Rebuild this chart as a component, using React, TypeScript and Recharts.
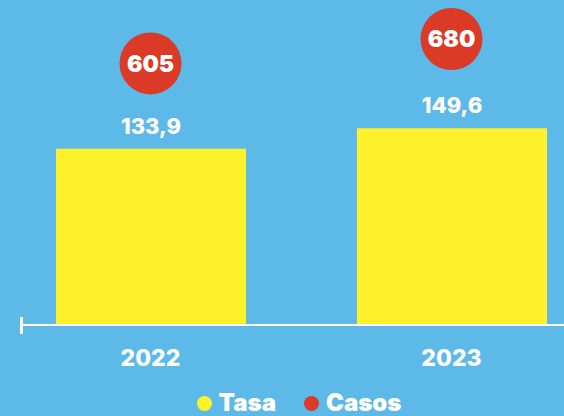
import React from "react";
import { ComposedChart, Bar, Line, XAxis, YAxis, LabelList, Legend } from "recharts";

const years = ["2022", "2023"];
const tasa = [133.9, 149.6];
const casos = [605, 680];
const legendOrder = ["Tasa", "Casos"];

const BG = "#5DB9E8";
const YELLOW = "#FFF22A";
const RED = "#DA3A26";
const FONT = "Inter, 'Open Sans', sans-serif";

const data = years.map((y, i) => ({ year: y, tasa: tasa[i], casos: casos[i] }));

const fmt = (v: number) => v.toFixed(1).replace(".", ",");

const CasoDot = (props: any) => {
  const { cx, cy, value } = props;
  if (cx == null || cy == null) return null;
  return (
    <g>
      <circle cx={cx} cy={cy} r={31} fill={RED} />
      <text
        x={cx}
        y={cy}
        dy="0.36em"
        textAnchor="middle"
        fill="#fff"
        fontSize={23}
        fontWeight={900}
        fontFamily={FONT}
      >
        {value}
      </text>
    </g>
  );
};

const LegendContent = ({ payload }: any) => {
  const items = [...(payload || [])].sort(
    (a: any, b: any) => legendOrder.indexOf(a.value) - legendOrder.indexOf(b.value)
  );
  return (
    <div
      style={{
        display: "flex",
        justifyContent: "center",
        alignItems: "center",
        gap: 28,
        height: 26,
        paddingLeft: 14,
      }}
    >
      {items.map((p: any) => (
        <div key={p.value} style={{ display: "flex", alignItems: "center", gap: 7 }}>
          <span style={{ width: 15, height: 15, borderRadius: "50%", background: p.color, display: "inline-block" }} />
          <span style={{ color: "#fff", fontSize: 24, lineHeight: "26px", fontWeight: 900, fontFamily: FONT }}>
            {p.value}
          </span>
        </div>
      ))}
    </div>
  );
};

export default function App() {
  return (
    <div style={{ position: "absolute", left: 0, top: 0, width: 564, height: 416, background: BG, overflow: "hidden" }}>
      <ComposedChart width={564} height={416} data={data} margin={{ top: 0, right: 0, left: 20, bottom: 0 }}>
        <XAxis
          dataKey="year"
          padding={{ left: -20, right: -38 }}
          axisLine={{ stroke: "#fff", strokeWidth: 2 }}
          tickLine={false}
          tickMargin={19}
          height={65}
          tick={{ fill: "#fff", fontSize: 23, fontWeight: 800, fontFamily: FONT }}
        />
        <YAxis yAxisId="tasa" hide domain={[0, 247]} allowDataOverflow />
        <YAxis yAxisId="casos" hide orientation="right" domain={[-200, 800]} allowDataOverflow />
        <Legend verticalAlign="bottom" height={26} content={<LegendContent />} />
        <Bar yAxisId="tasa" dataKey="tasa" name="Tasa" fill={YELLOW} barSize={190} isAnimationActive={false}>
          <LabelList
            dataKey="tasa"
            position="top"
            offset={15}
            formatter={(v: any) => fmt(Number(v))}
            fill="#fff"
            fontSize={22}
            fontWeight={800}
            fontFamily={FONT}
          />
        </Bar>
        <Line
          yAxisId="casos"
          dataKey="casos"
          name="Casos"
          stroke={RED}
          strokeWidth={0}
          dot={<CasoDot />}
          activeDot={false}
          isAnimationActive={false}
        />
      </ComposedChart>
      <div style={{ position: "absolute", left: 20, top: 317, width: 3, height: 17, background: "#fff" }} />
    </div>
  );
}
